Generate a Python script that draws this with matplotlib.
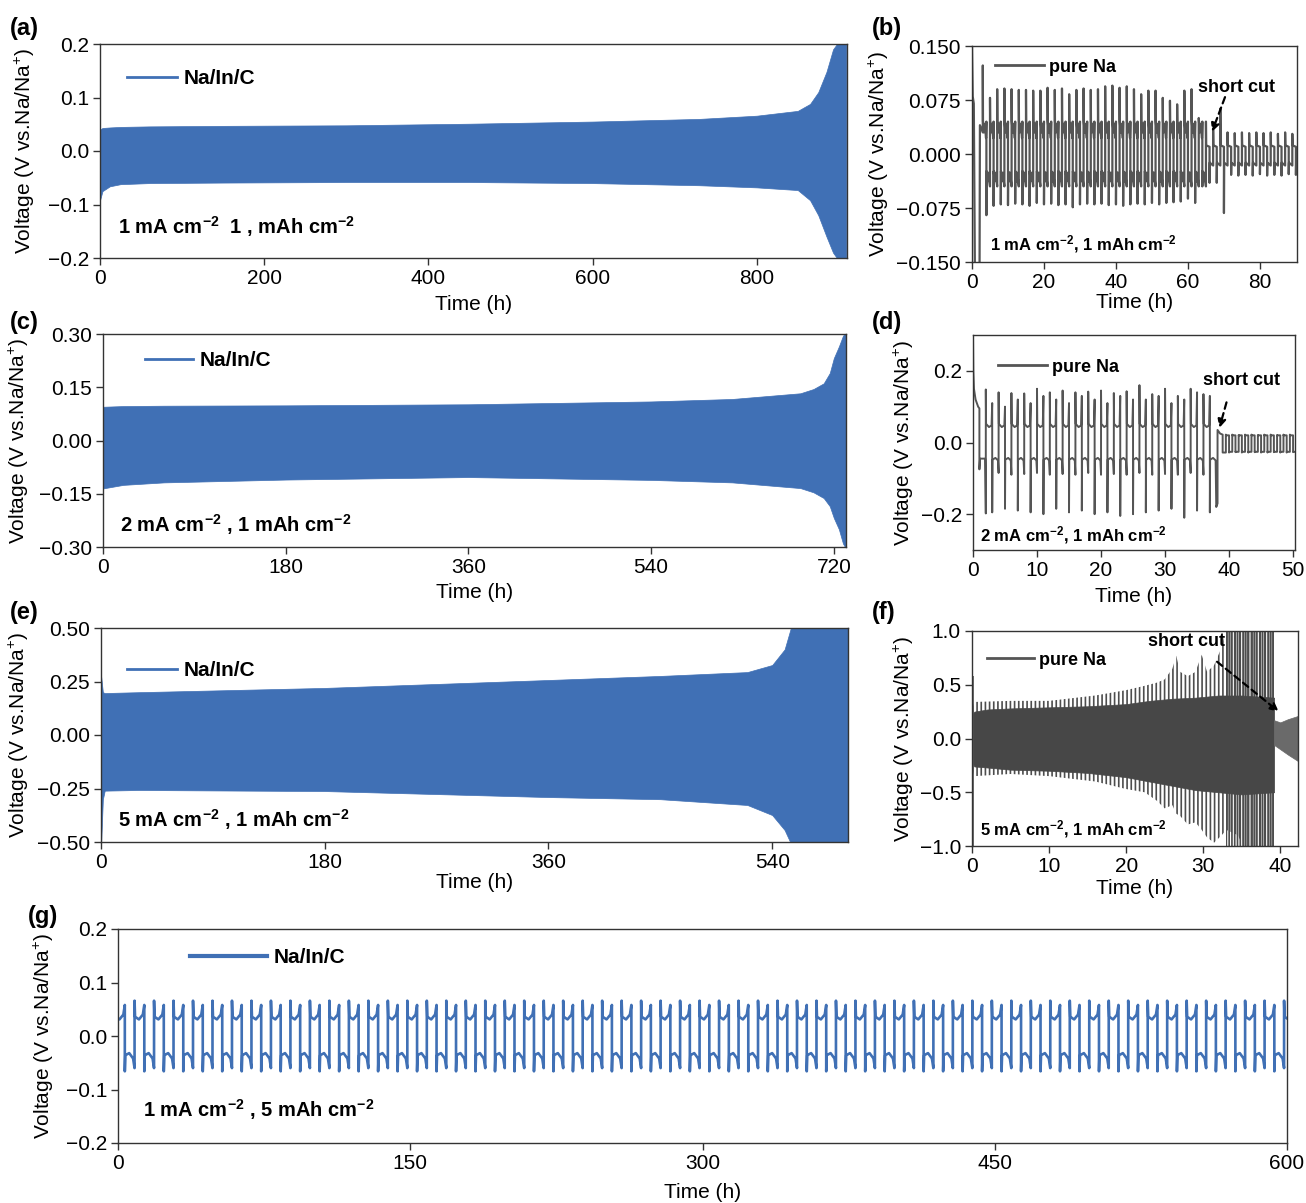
import numpy as np
import matplotlib
matplotlib.use('Agg')
import matplotlib.pyplot as plt
from matplotlib.ticker import FuncFormatter

plt.rcParams['font.family'] = ['Liberation Sans', 'DejaVu Sans']
plt.rcParams['mathtext.fontset'] = 'custom'
plt.rcParams['mathtext.rm'] = 'Liberation Sans'
plt.rcParams['mathtext.bf'] = 'Liberation Sans:bold'
plt.rcParams['mathtext.default'] = 'regular'
plt.rcParams['hatch.linewidth'] = 1.2

BLUE = '#4070b5'
GRAY = '#555555'
DARK = '#474747'
W, H = 1306, 1203

# ---------------- data ----------------
# (a) Na/In/C, 1 mA cm-2, 1 mAh cm-2 : voltage envelope
a_t = [0, 3, 12, 25, 60, 150, 300, 450, 600, 730, 800, 850, 865, 875, 885, 893, 900, 909]
a_hi = [0.040, 0.043, 0.044, 0.045, 0.046, 0.047, 0.048, 0.051, 0.055, 0.060, 0.066, 0.075,
        0.088, 0.110, 0.148, 0.190, 0.205, 0.205]
a_lo = [-0.092, -0.075, -0.066, -0.062, -0.060, -0.059, -0.058, -0.058, -0.060, -0.064, -0.068,
        -0.073, -0.092, -0.120, -0.160, -0.190, -0.205, -0.205]

# (c) Na/In/C, 2 mA cm-2
c_t = [0, 20, 60, 180, 360, 540, 620, 687, 700, 710, 716, 720, 725, 729, 732]
c_hi = [0.095, 0.097, 0.098, 0.099, 0.102, 0.110, 0.117, 0.133, 0.145, 0.161, 0.190, 0.232,
        0.265, 0.295, 0.305]
c_lo = [-0.135, -0.125, -0.118, -0.110, -0.103, -0.111, -0.118, -0.134, -0.146, -0.162, -0.185,
        -0.218, -0.250, -0.290, -0.305]

# (e) Na/In/C, 5 mA cm-2
e_t = [0, 1.5, 3, 30, 180, 360, 450, 520, 540, 550, 556, 601]
e_hi = [0.28, 0.20, 0.196, 0.20, 0.22, 0.257, 0.276, 0.294, 0.327, 0.40, 0.52, 0.52]
e_lo = [-0.52, -0.30, -0.26, -0.257, -0.262, -0.29, -0.30, -0.327, -0.374, -0.444, -0.52, -0.52]

# (b) pure Na, 1 mA cm-2 : first hours, then one spike pair per 2 h cycle
b_head_t = [0, 0.2, 0.5, 0.8, 2.1, 2.2, 2.6, 3.0]
b_head_v = [0.15, 0.08, 0.07, -0.16, -0.16, 0.04, 0.035, 0.03]
b_up = [0.123, 0.078, 0.090, 0.091, 0.090, 0.089, 0.089, 0.088, 0.088, 0.092, 0.089, 0.091,
        0.083, 0.089, 0.091, 0.089, 0.090, 0.094, 0.095, 0.092, 0.094, 0.090, 0.083, 0.088,
        0.088, 0.078, 0.074, 0.069, 0.088, 0.090, 0.050]
b_dn = [-0.085, -0.072, -0.070, -0.071, -0.069, -0.070, -0.072, -0.068, -0.070, -0.069, -0.071,
        -0.070, -0.074, -0.070, -0.069, -0.070, -0.069, -0.071, -0.070, -0.072, -0.070, -0.069,
        -0.070, -0.068, -0.070, -0.068, -0.067, -0.066, -0.062, -0.068, -0.045]
b_up2 = [0.045, 0.034, 0.063, 0.030, 0.029, 0.030, 0.029, 0.030, 0.029, 0.030, 0.028, 0.030, 0.028]
b_dn2 = [-0.040, -0.040, -0.082, -0.029, -0.030, -0.029, -0.030, -0.028, -0.030, -0.029, -0.030,
         -0.028, -0.029]

# (d) pure Na, 2 mA cm-2 : spikes at the start of each half, hooks at its end
d_head_t = [0, 0.05, 0.15, 0.4, 0.8, 1.0, 1.0, 1.1, 1.9, 2.0]
d_head_v = [0.30, 0.20, 0.15, 0.12, 0.10, 0.095, -0.075, -0.045, -0.045, -0.198]
d_up = [0.148, 0.140, 0.138, 0.137, 0.150, 0.140, 0.145, 0.140, 0.142, 0.145, 0.138, 0.143,
        0.160, 0.135, 0.150, 0.130, 0.150, 0.135]
d_up_hook = [0.11, 0.10, 0.12, 0.11, 0.13, 0.12, 0.11, 0.13, 0.12, 0.11, 0.13, 0.12, 0.12, 0.13,
             0.11, 0.12, 0.14, 0.13]
d_dn = [-0.195, -0.185, -0.190, -0.195, -0.200, -0.185, -0.195, -0.190, -0.200, -0.195, -0.205,
        -0.200, -0.195, -0.190, -0.185, -0.210, -0.190, -0.195]
d_dn_hook = [-0.085, -0.090, -0.088, -0.085, -0.090, -0.088, -0.090, -0.085, -0.090, -0.088,
             -0.090, -0.085, -0.090, -0.088, -0.090, -0.085, -0.090, -0.180]
d_tail_t = [38.2, 38.2, 38.6, 39.0, 39.0, 39.5]
d_tail_v = [-0.17, 0.035, 0.025, 0.022, -0.028, -0.028]
d_up2 = [0.022, 0.022, 0.021, 0.022, 0.022, 0.021, 0.022, 0.022, 0.021, 0.022, 0.022]
d_dn2 = [-0.028, -0.027, -0.028, -0.028, -0.027, -0.028, -0.028, -0.027, -0.028, -0.028, -0.027]

# (f) pure Na, 5 mA cm-2 : dense core band, spike envelope, dense burst before the short
f_core_t = [0, 0.3, 2, 5, 10, 15, 20, 23, 26, 29, 32, 35, 39.2]
f_core_hi = [0.22, 0.25, 0.27, 0.28, 0.29, 0.30, 0.32, 0.35, 0.37, 0.38, 0.40, 0.40, 0.38]
f_core_lo = [-0.22, -0.26, -0.27, -0.29, -0.30, -0.32, -0.36, -0.40, -0.44, -0.48, -0.50, -0.52,
             -0.50]
f_out_t = [0, 0.3, 5, 10, 16, 20, 22.4, 24, 25, 26, 26.5, 27, 28, 29, 29.8, 30.5, 31.4, 32.4,
           33.0, 34.5, 35.5, 39.2]
f_out_hi = [0.26, 0.34, 0.35, 0.35, 0.40, 0.45, 0.49, 0.52, 0.55, 0.65, 0.77, 0.62, 0.58, 0.62,
            0.78, 0.62, 0.68, 0.85, 1.05, 1.05, 1.05, 1.05]
f_out_lo = [-0.26, -0.35, -0.33, -0.35, -0.40, -0.47, -0.50, -0.58, -0.65, -0.62, -0.70, -0.72,
            -0.80, -0.78, -0.85, -0.92, -0.97, -0.90, -0.85, -0.90, -1.05, -1.05]
f_burst_t = [33.0, 39.2]
f_burst_hi = [1.05, 1.05]
f_burst_lo = [-1.05, -1.05]
f_post_t = [39.2, 40, 41, 42.3]
f_post_hi = [0.17, 0.15, 0.18, 0.21]
f_post_lo = [-0.06, -0.10, -0.15, -0.21]
f_spike_t = [0.15]
f_spike_lo = [-1.0]
f_spike_hi = [0.58]

# (g) Na/In/C, 1 mA cm-2, 5 mAh cm-2
g_up = [0.066] * 61
g_dn = [-0.066] * 61


def cycles(t_start, half, up_peaks, dn_peaks, up_shape, dn_shape, up_hooks=None, dn_hooks=None):
    # galvanostatic steps: jump to the nucleation peak, plateau shape, optional end hook
    ts, vs = [], []
    for k, (pu, pd) in enumerate(zip(up_peaks, dn_peaks)):
        t0 = t_start + 2 * half * k
        ts.append(t0); vs.append(pu)
        for f, v in up_shape:
            ts.append(t0 + f * half); vs.append(v)
        t1 = t0 + half
        if up_hooks:
            ts.append(t1); vs.append(up_hooks[k])
        ts.append(t1); vs.append(pd)
        for f, v in dn_shape:
            ts.append(t1 + f * half); vs.append(v)
        if dn_hooks:
            ts.append(t1 + half); vs.append(dn_hooks[k])
    return ts, vs


def fmt(d):
    return FuncFormatter(lambda v, p: ('%.*f' % (d, v)).replace('-', '\u2212'))


fig = plt.figure(figsize=(W / 100, H / 100), dpi=100)


def panel(l, t, r, b):
    ax = fig.add_axes([l / W, 1 - b / H, (r - l) / W, (b - t) / H])
    for s in ax.spines.values():
        s.set_color('#333333')
        s.set_linewidth(1.0)
    ax.tick_params(direction='out', length=5, width=1, labelsize=15, pad=3, color='#333333')
    return ax


def style(ax, xlim, xticks, ylim, yticks, dec, ylab_x, xlab_y):
    ax.set_xlim(*xlim)
    ax.set_xticks(xticks)
    ax.set_ylim(*ylim)
    ax.set_yticks(yticks)
    ax.yaxis.set_major_formatter(fmt(dec))
    ax.set_xlabel('Time (h)', fontsize=15)
    ax.set_ylabel('Voltage (V vs.Na/Na$^{+}$)', fontsize=15)
    ax.yaxis.set_label_coords(ylab_x, 0.5)
    ax.xaxis.set_label_coords(0.5, xlab_y)


def legend(ax, label, color, x, y, fs, lw, hl):
    ax.plot([], [], color=color, lw=lw, label=label)
    em = fs * 100 / 72
    ax.legend(loc='upper left', bbox_to_anchor=(x / W, 1 - (y - 0.62 * em + 5) / H),
              bbox_transform=fig.transFigure, frameon=False, borderpad=0, borderaxespad=0,
              handlelength=hl, handletextpad=0.3, prop={'weight': 'bold', 'size': fs})


def ftxt(x, y, s, fs, **kw):
    fig.text(x / W, 1 - y / H, s, fontsize=fs, fontweight='bold', va='center', **kw)


def arrow(ax, start, end):
    ax.annotate('', xy=end, xytext=start,
                arrowprops=dict(arrowstyle='-|>', linestyle=(0, (3, 2)), color='black', lw=1.6,
                                mutation_scale=12, shrinkA=0, shrinkB=0))


sup = r'$^{\mathbf{-2}}$'

# (a)
ax = panel(100, 44, 847, 258)
ax.fill_between(a_t, a_lo, a_hi, color=BLUE, lw=0.5)
style(ax, (0, 910), [0, 200, 400, 600, 800], (-0.2, 0.2), [-0.2, -0.1, 0, 0.1, 0.2], 1, -0.085, -0.173)
legend(ax, 'Na/In/C', BLUE, 127, 77, 15, 2, 2.4)
ftxt(118, 227, '1 mA cm' + sup + '  1 , mAh cm' + sup, 14.5)

# (b)
ax = panel(972, 46, 1297, 262)
t1, v1 = cycles(3, 1, b_up, b_dn, [(0.05, 0.046), (0.3, 0.030), (0.55, 0.042), (0.9, 0.022)],
                [(0.05, -0.024), (0.3, -0.038), (0.55, -0.026), (0.9, -0.040)],
                [0.045] * 31, [-0.045] * 31)
t2, v2 = cycles(65, 1, b_up2, b_dn2, [(0.06, 0.012), (1.0, 0.010)], [(0.06, -0.012), (1.0, -0.016)])
ax.plot(b_head_t + t1 + t2, b_head_v + v1 + v2, color=GRAY, lw=1.6)
style(ax, (0, 90.3), [0, 20, 40, 60, 80], (-0.15, 0.15), [-0.15, -0.075, 0, 0.075, 0.15], 3, -0.249, -0.144)
legend(ax, 'pure Na', GRAY, 995, 65, 13, 2, 2.7)
ax.text(73.6, 0.092, 'short cut', ha='center', va='center', fontsize=13, fontweight='bold')
arrow(ax, (70.3, 0.079), (66.7, 0.031))
ftxt(990, 244, '1 mA cm' + sup + ', 1 mAh cm' + sup, 12)

# (c)
ax = panel(103, 334, 846, 547)
ax.fill_between(c_t, c_lo, c_hi, color=BLUE, lw=0.5)
style(ax, (0, 732), [0, 180, 360, 540, 720], (-0.3, 0.3), [-0.3, -0.15, 0, 0.15, 0.3], 2, -0.097, -0.169)
legend(ax, 'Na/In/C', BLUE, 145, 359, 15, 2, 2.3)
ftxt(120, 525, '2 mA cm' + sup + ' , 1 mAh cm' + sup, 14.5)

# (d)
ax = panel(973, 335, 1295, 550)
t1, v1 = cycles(2.0, 1.0, d_up, d_dn, [(0.04, 0.052), (0.5, 0.043), (0.9, 0.048)],
                [(0.04, -0.048), (0.5, -0.043), (0.9, -0.050)], d_up_hook, d_dn_hook)
t2, v2 = cycles(39.5, 0.5, d_up2, d_dn2, [(0.02, 0.020), (1.0, 0.020)], [(0.02, -0.026), (1.0, -0.026)])
ax.plot(d_head_t + t1 + d_tail_t + t2, d_head_v + v1 + d_tail_v + v2, color=GRAY, lw=1.4)
style(ax, (0, 50.3), [0, 10, 20, 30, 40, 50], (-0.3, 0.3), [-0.2, 0, 0.2], 1, -0.177, -0.172)
legend(ax, 'pure Na', GRAY, 998, 365, 13, 2, 2.7)
ax.text(42.0, 0.172, 'short cut', ha='center', va='center', fontsize=13, fontweight='bold')
arrow(ax, (39.6, 0.112), (38.5, 0.041))
ftxt(980, 535, '2 mA cm' + sup + ', 1 mAh cm' + sup, 12)

# (e)
ax = panel(101, 628, 848, 842)
ax.fill_between(e_t, e_lo, e_hi, color=BLUE, lw=0.5)
style(ax, (0, 601), [0, 180, 360, 540], (-0.5, 0.5), [-0.5, -0.25, 0, 0.25, 0.5], 2, -0.094, -0.145)
legend(ax, 'Na/In/C', BLUE, 127, 669, 15, 2, 2.4)
ftxt(118, 820, '5 mA cm' + sup + ' , 1 mAh cm' + sup, 14.5)

# (f)
ax = panel(972, 631, 1298, 846)
ax.fill_between(f_out_t, f_out_lo, f_out_hi, facecolor='white', edgecolor='#4d4d4d', hatch='||||', lw=0)
ax.fill_between(f_burst_t, f_burst_lo, f_burst_hi, facecolor='none', edgecolor='#4d4d4d', hatch='||||||', lw=0)
ax.fill_between(f_core_t, f_core_lo, f_core_hi, color=DARK, lw=0.5)
ax.fill_between(f_post_t, f_post_lo, f_post_hi, color='#6a6a6a', lw=0.5)
ax.vlines(f_spike_t, f_spike_lo, f_spike_hi, color=GRAY, lw=1.2)
style(ax, (0, 42.3), [0, 10, 20, 30, 40], (-1, 1), [-1, -0.5, 0, 0.5, 1], 1, -0.172, -0.153)
legend(ax, 'pure Na', GRAY, 987, 658, 13, 2, 2.6)
ax.text(27.8, 0.898, 'short cut', ha='center', va='center', fontsize=13, fontweight='bold')
arrow(ax, (31.8, 0.714), (39.8, 0.25))
ftxt(980, 829, '5 mA cm' + sup + ', 1 mAh cm' + sup, 12)

# (g)
ax = panel(118, 929, 1287, 1143)
t1, v1 = cycles(-1.5, 5, g_up, g_dn, [(0.05, 0.036), (0.45, 0.031), (0.85, 0.040), (1.0, 0.058)],
                [(0.05, -0.036), (0.45, -0.032), (0.85, -0.042), (1.0, -0.060)])
ax.plot(t1, v1, color=BLUE, lw=1.9)
style(ax, (0, 600), [0, 150, 300, 450, 600], (-0.2, 0.2), [-0.2, -0.1, 0, 0.1, 0.2], 1, -0.053, -0.187)
legend(ax, 'Na/In/C', BLUE, 190, 956, 15, 3, 3.7)
ftxt(143, 1110, '1 mA cm' + sup + ' , 5 mAh cm' + sup, 14.5)

# panel letters
for lab, x, y in [('(a)', 10, 28), ('(b)', 872, 28), ('(c)', 10, 323), ('(d)', 872, 323),
                  ('(e)', 10, 612), ('(f)', 872, 612), ('(g)', 28, 917)]:
    ftxt(x, y, lab, 17)

fig.savefig('out.png', dpi=100)
